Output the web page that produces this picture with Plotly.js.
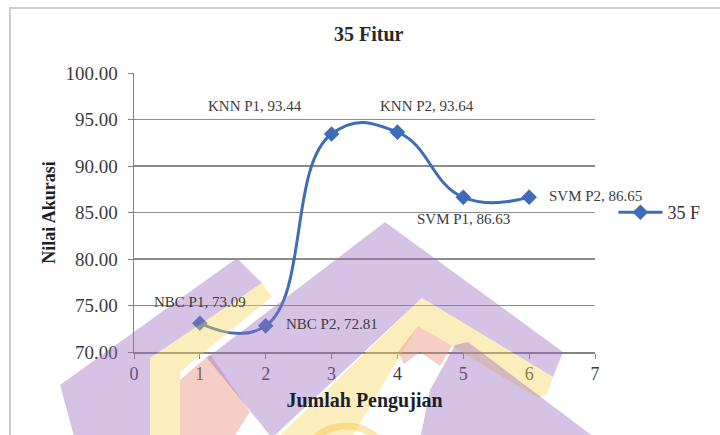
<!DOCTYPE html>
<html>
<head>
<meta charset="utf-8">
<script src="https://cdn.plot.ly/plotly-3.0.1.min.js"></script>
<style>
html,body{margin:0;padding:0;background:#fff;}
#chart{width:720px;height:435px;}
</style>
</head>
<body>
<div id="chart"></div>
<script>
// ---- data ----
const xValues = [1, 2, 3, 4, 5, 6];
const yValues = [73.09, 72.81, 93.44, 93.64, 86.63, 86.65];
const pointNames = ['NBC P1', 'NBC P2', 'KNN P1', 'KNN P2', 'SVM P1', 'SVM P2'];
const seriesName = '35 F';
const yTicks = [70, 75, 80, 85, 90, 95, 100];
const xTicks = [0, 1, 2, 3, 4, 5, 6, 7];

// ---- styling ----
const serif = '"Liberation Serif", "Times New Roman", serif';
const blue = 'rgb(62,108,184)';
const labelShift = [[0, 21], [66, 2], [-77, 28], [30, 26], [0, -22], [66, 1]];

const M = {l: 134, r: 125, t: 73, b: 83};
const PW = 720 - M.l - M.r, PH = 435 - M.t - M.b;
const fx = px => (px - M.l) / PW;
const fy = py => (435 - M.b - py) / PH;
function px2paper(pts) {
  return 'M' + pts.map(p => fx(p[0]).toFixed(4) + ',' + fy(p[1]).toFixed(4)).join(' L') + ' Z';
}
const PURPLE = 'rgb(155,110,190)', YELLOW = 'rgb(248,214,95)', PINK = 'rgb(232,140,120)';
// watermark decoration (pixel polygons)
const wm = [
  {c: PURPLE, p: [[60,385],[237,258],[262,283],[150,358],[150,440],[75,440]]},
  {c: YELLOW, p: [[262,283],[272,297],[180,372],[180,440],[150,440],[150,358]]},
  {c: PINK,   p: [[180,380],[210,354],[250,412],[232,440],[180,440]]},
  {c: PURPLE, p: [[385,222],[563,352],[553,377],[422,298],[272,438],[207,358]]},
  {c: YELLOW, p: [[422,298],[553,377],[547,394],[538,398],[418,326],[350,440],[275,440]]},
  {c: PINK,   p: [[418,326],[452,346],[440,366],[420,352],[404,364],[398,352]]},
  {c: PURPLE, p: [[455,345],[468,342],[598,440],[420,440],[430,390]]}
];

const shapes = [
  {type: 'rect', xref: 'paper', yref: 'paper', x0: fx(10), x1: 1.6, y0: -0.5, y1: fy(8),
   line: {color: 'rgb(205,205,205)', width: 2}, fillcolor: 'rgba(0,0,0,0)', layer: 'below'}
];
wm.forEach(s => shapes.push({type: 'path', xref: 'paper', yref: 'paper', path: px2paper(s.p),
  fillcolor: s.c, opacity: 0.42, line: {width: 0}, layer: 'above'}));
shapes.push({type: 'circle', xref: 'paper', yref: 'paper', x0: fx(300), x1: fx(392), y0: fy(426), y1: fy(518),
  line: {color: 'rgb(248,200,70)', width: 7}, fillcolor: 'rgba(0,0,0,0)', opacity: 0.45, layer: 'above'});

const annotations = xValues.map((x, i) => ({
  x: x, y: yValues[i], xref: 'x', yref: 'y',
  text: pointNames[i] + ', ' + yValues[i].toFixed(2),
  showarrow: false, xshift: labelShift[i][0], yshift: labelShift[i][1],
  font: {family: serif, size: 15, color: 'rgb(60,60,60)'}
}));
annotations.push({xref: 'paper', yref: 'paper', x: 0.5, y: 1, yshift: 26, yanchor: 'bottom', xshift: 4,
  text: '<b>35 Fitur</b>', showarrow: false, font: {family: serif, size: 20, color: 'rgb(40,40,40)'}});

const trace = {
  x: xValues, y: yValues, name: seriesName, type: 'scatter', mode: 'lines+markers',
  line: {color: blue, width: 3, shape: 'spline', smoothing: 1.3},
  marker: {symbol: 'diamond', size: 12, color: blue}
};

const layout = {
  width: 720, height: 435,
  margin: M,
  paper_bgcolor: '#fff', plot_bgcolor: 'rgba(0,0,0,0)',
  showlegend: true,
  legend: {x: 1.04, y: 0.5, yanchor: 'middle', xanchor: 'left', font: {family: serif, size: 18, color: 'rgb(50,50,50)'},
    itemwidth: 44, bgcolor: 'rgba(0,0,0,0)'},
  xaxis: {range: [0, 7], tickvals: xTicks, ticktext: xTicks.map(String), showgrid: false, zeroline: false,
    showline: true, linecolor: 'rgb(130,130,130)', linewidth: 1.5, ticks: 'outside', ticklen: 5, tickcolor: 'rgb(130,130,130)',
    tickfont: {family: serif, size: 18, color: 'rgb(60,60,60)'},
    title: {text: '<b>Jumlah Pengujian</b>', standoff: 10, font: {family: serif, size: 20, color: 'rgb(30,30,40)'}}},
  yaxis: {range: [70, 100], tickvals: yTicks, ticktext: yTicks.map(v => v.toFixed(2)), showgrid: true,
    gridcolor: 'rgb(140,140,140)', gridwidth: 1.5, zeroline: false,
    showline: true, linecolor: 'rgb(130,130,130)', linewidth: 1.5, ticks: 'outside', ticklen: 5, tickcolor: 'rgb(130,130,130)',
    ticklabelstandoff: 6,
    tickfont: {family: serif, size: 19, color: 'rgb(60,60,60)'},
    title: {text: '<b>Nilai Akurasi</b>', standoff: 5, font: {family: serif, size: 18, color: 'rgb(30,30,40)'}}},
  shapes: shapes,
  annotations: annotations
};

Plotly.newPlot('chart', [trace], layout, {displayModeBar: false, staticPlot: true});
</script>
</body>
</html>
